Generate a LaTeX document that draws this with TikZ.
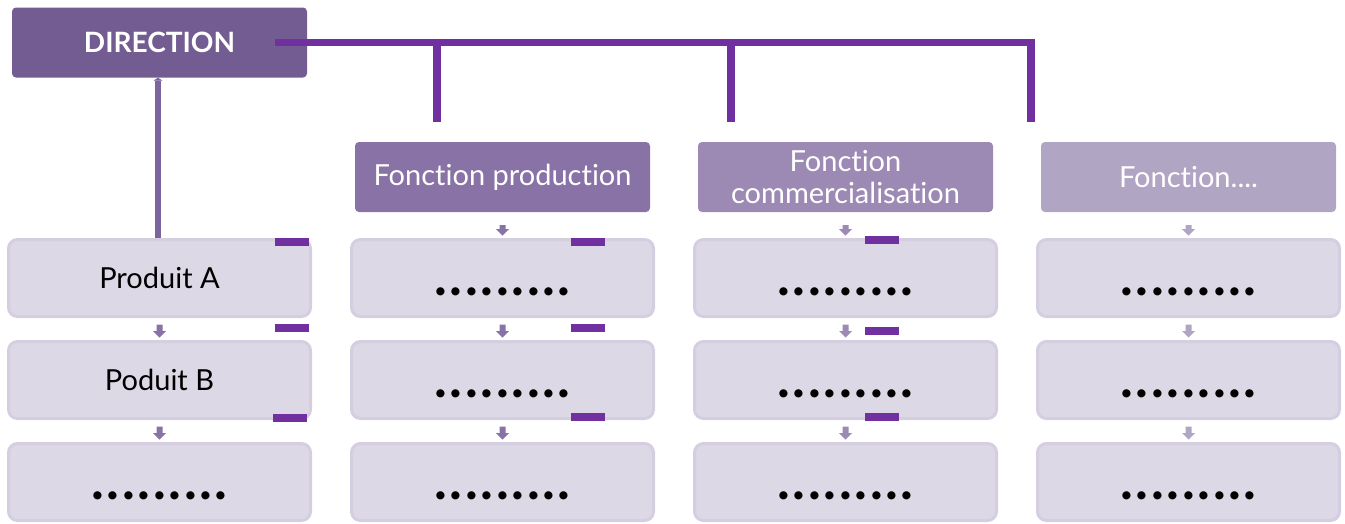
\documentclass[tikz,border=0pt]{standalone}
\usepackage{fontspec}
\setmainfont{Lato}[Ligatures={NoCommon}]
\usetikzlibrary{arrows.meta}

\definecolor{dirc}{RGB}{115,92,145}
\definecolor{prodc}{RGB}{136,114,166}
\definecolor{commc}{RGB}{157,138,180}
\definecolor{fonc}{RGB}{177,165,196}
\definecolor{cellfill}{RGB}{221,216,230}
\definecolor{cellline}{RGB}{212,206,224}
\definecolor{busc}{RGB}{112,48,160}
\definecolor{linkc}{RGB}{124,100,158}

% one dot of a placeholder row, on a fixed pitch
\newcommand\pdot{\makebox[15.4pt]{.}}
\newcommand\pdots{\pdot\pdot\pdot\pdot\pdot\pdot\pdot\pdot\pdot}

% small block arrow hanging below an anchor: colour, anchor, gap, shaft length
\newcommand\blockdown[4]{%
  \fill[#1] ([shift={(-3,#3)}]#2) -- ++(6,0) -- ++(0,#4) -- ++(3.5,0)
    -- ++(-6.5,6.5) -- ++(-6.5,-6.5) -- ++(3.5,0) -- cycle;}

\tikzset{
  headbox/.style={fill=#1, rounded corners=4pt, inner sep=0pt,
    minimum width=295pt, minimum height=70pt, text=white, align=center,
    font=\fontsize{29}{32}\selectfont},
  cellbox/.style={fill=cellfill, draw=cellline, line width=3pt,
    rounded corners=9pt, inner sep=0pt,
    minimum width=302pt, minimum height=77pt,
    font=\fontsize{29}{32}\selectfont, text height=20.8pt, text depth=0pt},
  dotcell/.style={cellbox, font=\fontsize{54}{54}\selectfont\bfseries,
    text height=35pt, text depth=0pt},
  bus/.style={draw=busc, line width=7.5pt},
  tickbar/.style={fill=busc},
}

\begin{document}
\begin{tikzpicture}[x=1pt,y=-1pt]
\useasboundingbox (0,0) rectangle (1345,523);

% top of the chart
\node[headbox=dirc, font=\fontsize{28}{32}\selectfont\bfseries] (dir) at (159.5,42.5) {DIRECTION};

% function headers
\node[headbox=prodc] (h2) at (502.5,177) {Fonction production};
\node[headbox=commc] (h3) at (845.5,177) {Fonction\\commercialisation};
\node[headbox=fonc]  (h4) at (1188.5,177) {Fonction....};

% product column
\node[cellbox] (c11) at (159.5,278) {Produit A};
\node[cellbox] (c12) at (159.5,380) {Poduit B};
\node[dotcell] (c13) at (159.5,482) {\pdots};

% function columns
\foreach \col/\x in {2/502.5,3/845.5,4/1188.5}{
  \node[dotcell] (c\col1) at (\x,278) {\pdots};
  \node[dotcell] (c\col2) at (\x,380) {\pdots};
  \node[dotcell] (c\col3) at (\x,482) {\pdots};
}

% small down arrows between the boxes
\blockdown{prodc}{c11.south}{6.5}{6.5}
\blockdown{prodc}{c12.south}{6.5}{6.5}
\foreach \col/\cc in {2/prodc,3/commc,4/fonc}{
  \blockdown{\cc}{h\col.south}{13}{4}
  \blockdown{\cc}{c\col1.south}{6.5}{6.5}
  \blockdown{\cc}{c\col2.south}{6.5}{6.5}
}

% link from the product column up to the direction
\draw[draw=linkc, line width=6pt, -{Triangle[width=9pt,length=3pt,fill=linkc]}]
  ([xshift=-1.5pt]c11.north) -- ([xshift=-1.5pt]dir.south);

% branch line from the direction
\coordinate (t1) at (437,122);
\coordinate (t2) at (731,122);
\coordinate (t3) at (1031,122);
\draw[bus] ([xshift=-32pt]dir.east) -| (t3);
\draw[bus] (t1 |- dir.east) -- (t1);
\draw[bus] (t2 |- dir.east) -- (t2);

% short marks beside the boxes
\fill[tickbar] (275,238) rectangle (309,246);
\fill[tickbar] (275,324) rectangle (309,332);
\fill[tickbar] (273,414) rectangle (307,422);
\fill[tickbar] (571,238) rectangle (605,246);
\fill[tickbar] (571,324) rectangle (605,332);
\fill[tickbar] (571,413) rectangle (605,421);
\fill[tickbar] (865,236) rectangle (899,244);
\fill[tickbar] (865,327) rectangle (899,335);
\fill[tickbar] (865,413) rectangle (899,421);
\end{tikzpicture}
\end{document}
